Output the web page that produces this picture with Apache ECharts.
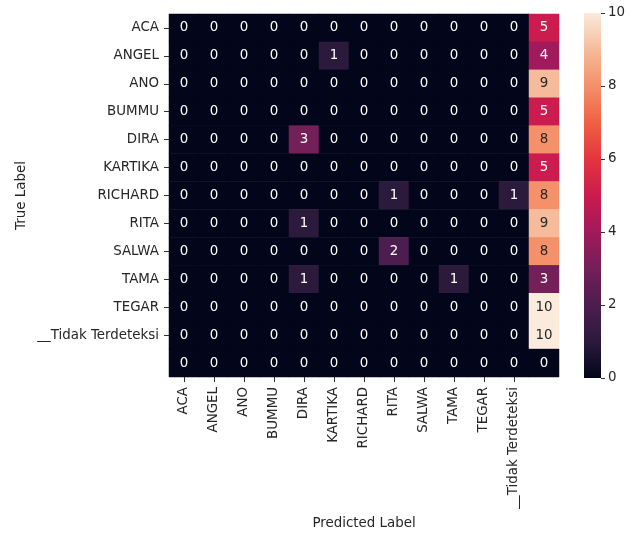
<!DOCTYPE html>
<html><head><meta charset="utf-8">
<script src="https://cdn.jsdelivr.net/npm/echarts@6/dist/echarts.min.js"></script>
<style>html,body{margin:0;padding:0;background:#fff}#c{width:636px;height:533px}</style>
</head><body><div id="c"></div>
<script>
var predLabels = ['ACA','ANGEL','ANO','BUMMU','DIRA','KARTIKA','RICHARD','RITA','SALWA','TAMA','TEGAR','__Tidak Terdeteksi',''];
var trueLabels = ['ACA','ANGEL','ANO','BUMMU','DIRA','KARTIKA','RICHARD','RITA','SALWA','TAMA','TEGAR','__Tidak Terdeteksi',''];
var rowACA      = [0,0,0,0,0,0,0,0,0,0,0,0,5];
var rowANGEL    = [0,0,0,0,0,1,0,0,0,0,0,0,4];
var rowANO      = [0,0,0,0,0,0,0,0,0,0,0,0,9];
var rowBUMMU    = [0,0,0,0,0,0,0,0,0,0,0,0,5];
var rowDIRA     = [0,0,0,0,3,0,0,0,0,0,0,0,8];
var rowKARTIKA  = [0,0,0,0,0,0,0,0,0,0,0,0,5];
var rowRICHARD  = [0,0,0,0,0,0,0,1,0,0,0,1,8];
var rowRITA     = [0,0,0,0,1,0,0,0,0,0,0,0,9];
var rowSALWA    = [0,0,0,0,0,0,0,2,0,0,0,0,8];
var rowTAMA     = [0,0,0,0,1,0,0,0,0,1,0,0,3];
var rowTEGAR    = [0,0,0,0,0,0,0,0,0,0,0,0,10];
var rowTidak    = [0,0,0,0,0,0,0,0,0,0,0,0,10];
var rowEmpty    = [0,0,0,0,0,0,0,0,0,0,0,0,0];
var colorbarTicks = [0,2,4,6,8,10];
var cbMin = 0, cbMax = 10;

var rows = [rowACA,rowANGEL,rowANO,rowBUMMU,rowDIRA,rowKARTIKA,rowRICHARD,rowRITA,rowSALWA,rowTAMA,rowTEGAR,rowTidak,rowEmpty];
var rocket = ['#03051a','#2b1a3c','#4c1d4f','#731f58','#a11a5b','#cb1b4f','#e3363f','#f06043','#f4906a','#f6bb9a','#faebdd'];

var data = [];
rows.forEach(function(r, yi){
  r.forEach(function(v, xi){
    data.push({value:[xi, yi, v], label:{color: v >= 7 ? '#262626' : '#ffffff'}});
  });
});

var stops = rocket.map(function(c,i){ return {offset: 1 - i/(rocket.length-1), color: c}; });

var font = 'DejaVu Sans';
var fs = 13.4;
var chart = echarts.init(document.getElementById('c'));
chart.setOption({
  animation:false,
  textStyle:{fontFamily:font},
  grid:[
    {left:169, top:14, width:390, height:363, outerBoundsMode:'none', containLabel:false},
    {left:584, top:13, width:17, height:365, outerBoundsMode:'none', containLabel:false}
  ],
  xAxis:[
    {type:'category', data:predLabels, gridIndex:0, position:'bottom',
     axisLine:{show:false}, splitLine:{show:false},
     axisTick:{show:true, alignWithLabel:true, length:5, lineStyle:{color:'#333'}, interval:function(i,v){return v!=='';}},
     axisLabel:{rotate:90, interval:0, color:'#262626', fontSize:fs, fontFamily:font, margin:10},
     name:'Predicted Label', nameLocation:'middle', nameGap:140, nameMoveOverlap:false,
     nameTextStyle:{color:'#262626', fontSize:fs, fontFamily:font}},
    {type:'category', data:['cb'], gridIndex:1, show:false}
  ],
  yAxis:[
    {type:'category', data:trueLabels, gridIndex:0, inverse:true,
     axisLine:{show:false}, splitLine:{show:false},
     axisTick:{show:true, alignWithLabel:true, length:5, lineStyle:{color:'#333'}, interval:function(i,v){return v!=='';}},
     axisLabel:{interval:0, color:'#262626', fontSize:fs, fontFamily:font, margin:10},
     name:'True Label', nameLocation:'middle', nameGap:141, nameRotate:90, nameMoveOverlap:false,
     nameTextStyle:{color:'#262626', fontSize:fs, fontFamily:font}},
    {type:'value', gridIndex:1, min:cbMin, max:cbMax, interval:2, position:'right',
     axisLine:{show:false}, splitLine:{show:false},
     axisTick:{show:true, length:4, lineStyle:{color:'#333'}},
     axisLabel:{color:'#262626', fontSize:fs, fontFamily:font, margin:7,
       formatter:function(v){return colorbarTicks.indexOf(v)>=0 ? String(v) : '';}}}
  ],
  visualMap:{show:false, min:cbMin, max:cbMax, dimension:2, seriesIndex:0,
    inRange:{color:rocket}},
  series:[
    {type:'heatmap', xAxisIndex:0, yAxisIndex:0, data:data,
     label:{show:true, fontSize:fs, fontFamily:font, formatter:function(p){return p.value[2];}},
     itemStyle:{borderWidth:0}, emphasis:{disabled:true}},
    {type:'bar', xAxisIndex:1, yAxisIndex:1, data:[cbMax], barWidth:'100%', silent:true,
     itemStyle:{color:new echarts.graphic.LinearGradient(0,0,0,1,stops)}}
  ]
});
</script>
</body></html>
